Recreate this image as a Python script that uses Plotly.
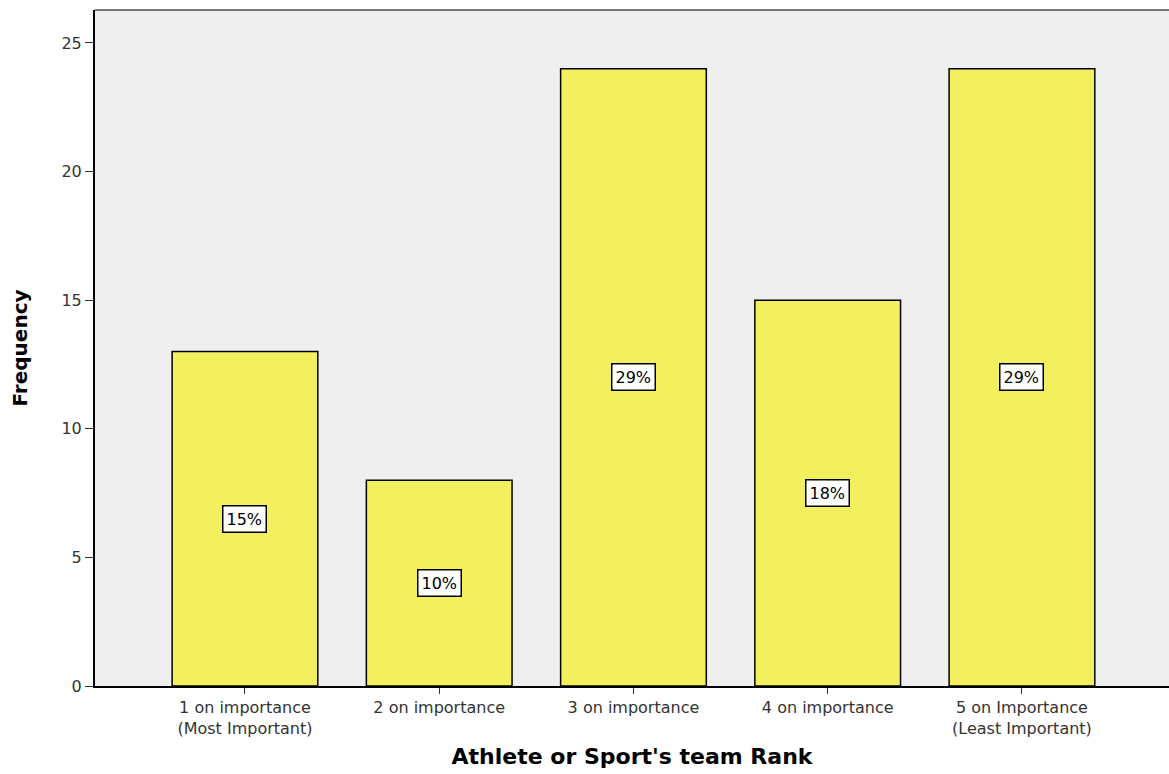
import plotly.graph_objects as go

categories = ["1 on importance<br>(Most Important)", "2 on importance", "3 on importance",
              "4 on importance", "5 on Importance<br>(Least Important)"]
frequency = [13, 8, 24, 15, 24]
pct_labels = ["15%", "10%", "29%", "18%", "29%"]
y_ticks = [0, 5, 10, 15, 20, 25]

FONT = "DejaVu Sans, Arial"

fig = go.Figure()
fig.add_trace(go.Bar(x=categories, y=frequency, width=0.75,
                     marker=dict(color="#f3f060", line=dict(color="black", width=1.5)),
                     hoverinfo="x+y"))

# white boxed percentage labels in the middle of each bar
for cat, val, lab in zip(categories, frequency, pct_labels):
    fig.add_annotation(x=cat, y=val / 2, text=lab, showarrow=False,
                       font=dict(family=FONT, size=16, color="black"),
                       bgcolor="white", bordercolor="black", borderwidth=1.5, borderpad=3)

# grey frame line along the top of the plot area
fig.add_shape(type="line", xref="paper", yref="paper", x0=0, x1=1, y0=1, y1=1,
              line=dict(color="#777777", width=2))

fig.update_layout(
    width=1169, height=774,
    margin=dict(l=95, r=0, t=10, b=88),
    paper_bgcolor="white", plot_bgcolor="#efefef",
    showlegend=False, bargap=0.25,
    font=dict(family=FONT, color="#333333"),
    xaxis=dict(range=[-0.772, 4.757], showline=True, linecolor="black", linewidth=2,
               ticks="outside", ticklen=6, tickcolor="#333333", showgrid=False,
               tickfont=dict(size=16, color="#333333"),
               title=dict(text="<b>Athlete or Sport's team Rank</b>", standoff=12,
                          font=dict(size=22, color="black"))),
    yaxis=dict(range=[0, 26.28], tickvals=y_ticks, showline=True, linecolor="black",
               linewidth=2, ticks="outside", ticklen=8, tickcolor="#333333",
               showgrid=False, zeroline=False,
               tickfont=dict(size=16, color="#333333"),
               title=dict(text="<b>Frequency</b>", standoff=28,
                          font=dict(size=20, color="black"))),
)

# drop the default page margin so the figure sits at the window origin
fig.write_html("out.html", config={"displayModeBar": False},
               post_script="document.body.style.margin='0';")
